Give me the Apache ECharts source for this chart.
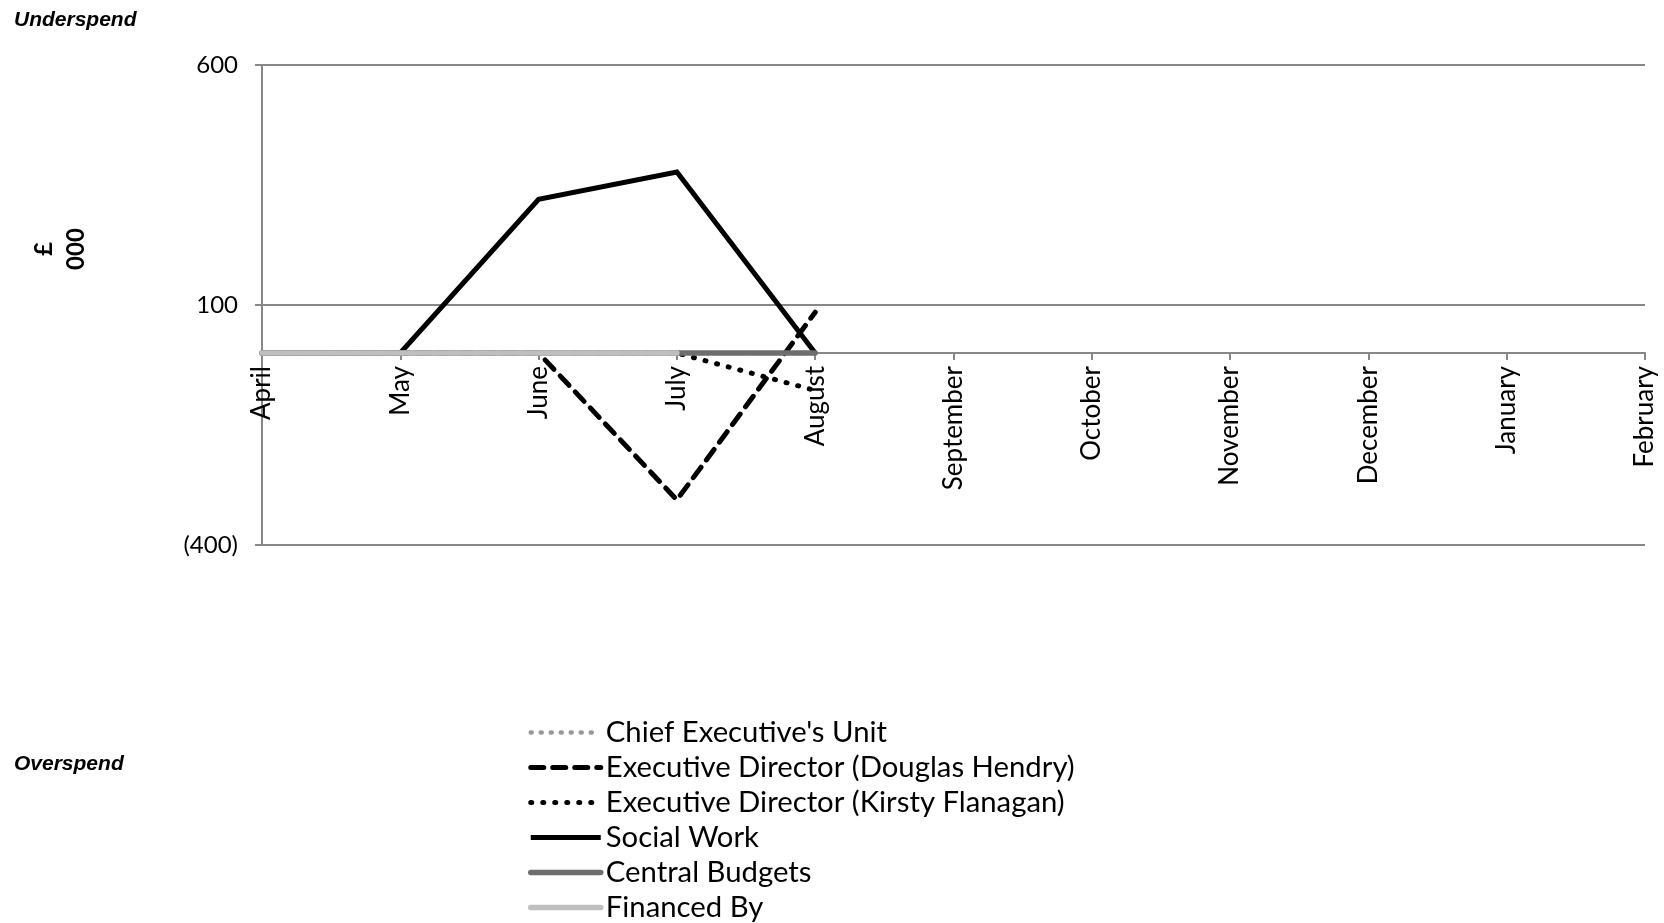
<!DOCTYPE html>
<html>
<head>
<meta charset="utf-8">
<script src="https://cdn.jsdelivr.net/npm/echarts@6/dist/echarts.min.js"></script>
<style>
html,body{margin:0;padding:0;background:#fff;}
#chart{width:1664px;height:923px;}
</style>
</head>
<body>
<div id="chart"></div>
<script>
const months = ['April','May','June','July','August','September','October','November','December','January','February'];
const yTicks = [-400, 100, 600];
const chiefExecutive = [0, 0, 0, 0, 0, null, null, null, null, null, null];
const douglasHendry = [0, 0, 0, -306, 85, null, null, null, null, null, null];
const kirstyFlanagan = [0, 0, 0, 0, -78, null, null, null, null, null, null];
const socialWork = [0, 0, 320, 377, 0, null, null, null, null, null, null];
const centralBudgets = [0, 0, 0, 0, 0, null, null, null, null, null, null];
const financedBy = [0, 0, 0, 0, null, null, null, null, null, null, null];
const seriesNames = ["Chief Executive's Unit", 'Executive Director (Douglas Hendry)', 'Executive Director (Kirsty Flanagan)', 'Social Work', 'Central Budgets', 'Financed By'];

const FONT = 'Lato, Carlito, "Open Sans", sans-serif';
const GRID_TOP = 65, GRID_BOTTOM = 378, H = 923;
const chart = echarts.init(document.getElementById('chart'));

function lineSeries(name, data, color, width, type, cap) {
  return {
    name: name, type: 'line', data: data, symbol: 'none', showSymbol: false, connectNulls: false,
    lineStyle: {color: color, width: width, type: type, cap: cap || 'butt', join: 'miter'},
    itemStyle: {color: color},
    emphasis: {disabled: true}, animation: false
  };
}

// position of the zero line so month labels can sit under it
const plotH = H - GRID_TOP - GRID_BOTTOM;
const zeroFromBottom = plotH * (0 - yTicks[0]) / (yTicks[2] - yTicks[0]);

chart.setOption({
  animation: false,
  grid: {left: 262, right: 19, top: GRID_TOP, bottom: GRID_BOTTOM, containLabel: false},
  xAxis: {
    type: 'category', data: months, boundaryGap: false,
    axisLine: {onZero: true, lineStyle: {color: '#878787', width: 2}},
    axisTick: {show: true, length: 7, alignWithLabel: true, lineStyle: {color: '#878787', width: 2}},
    axisLabel: {rotate: 90, color: '#000', fontFamily: FONT, fontSize: 26, margin: 13 - zeroFromBottom, interval: 0, hideOverlap: false}
  },
  yAxis: {
    type: 'value', min: yTicks[0], max: yTicks[2], interval: yTicks[1] - yTicks[0],
    axisLine: {show: true, lineStyle: {color: '#878787', width: 2}},
    axisTick: {show: true, length: 7, lineStyle: {color: '#878787', width: 2}},
    splitLine: {show: true, lineStyle: {color: '#878787', width: 2}},
    axisLabel: {color: '#000', fontFamily: FONT, fontSize: 24, margin: 24,
      formatter: v => v < 0 ? '(' + (-v) + ')' : String(v)}
  },
  legend: {
    orient: 'vertical', left: 523, top: 710, height: 300, itemGap: 0,
    itemWidth: 70, itemHeight: 14,
    itemStyle: {opacity: 0},
    lineStyle: {width: 'inherit', type: 'inherit', cap: 'inherit'},
    textStyle: {color: '#000', fontFamily: FONT, fontSize: 29.3, lineHeight: 35},
    data: seriesNames
  },
  graphic: [
    {type: 'text', left: 14, top: 10, style: {text: 'Underspend', font: 'italic bold 21px "Liberation Sans", Arial, sans-serif', fill: '#000'}},
    {type: 'text', left: 14, top: 754, style: {text: 'Overspend', font: 'italic bold 21px "Liberation Sans", Arial, sans-serif', fill: '#000'}},
    {type: 'text', x: 60, y: 249, rotation: Math.PI / 2,
      style: {text: '£\n000', font: 'bold 24px Lato, Carlito, sans-serif', fill: '#000', align: 'center', verticalAlign: 'middle', lineHeight: 32}}
  ],
  series: [
    lineSeries(seriesNames[0], chiefExecutive, '#999999', 4.5, [1, 9], 'round'),
    lineSeries(seriesNames[1], douglasHendry, '#000000', 5, [13, 9], 'round'),
    lineSeries(seriesNames[2], kirstyFlanagan, '#000000', 5, [1, 11], 'round'),
    lineSeries(seriesNames[3], socialWork, '#000000', 5, 'solid'),
    lineSeries(seriesNames[4], centralBudgets, '#6e6e6e', 5.5, 'solid', 'round'),
    lineSeries(seriesNames[5], financedBy, '#bfbfbf', 5.5, 'solid', 'round')
  ]
});
</script>
</body>
</html>
